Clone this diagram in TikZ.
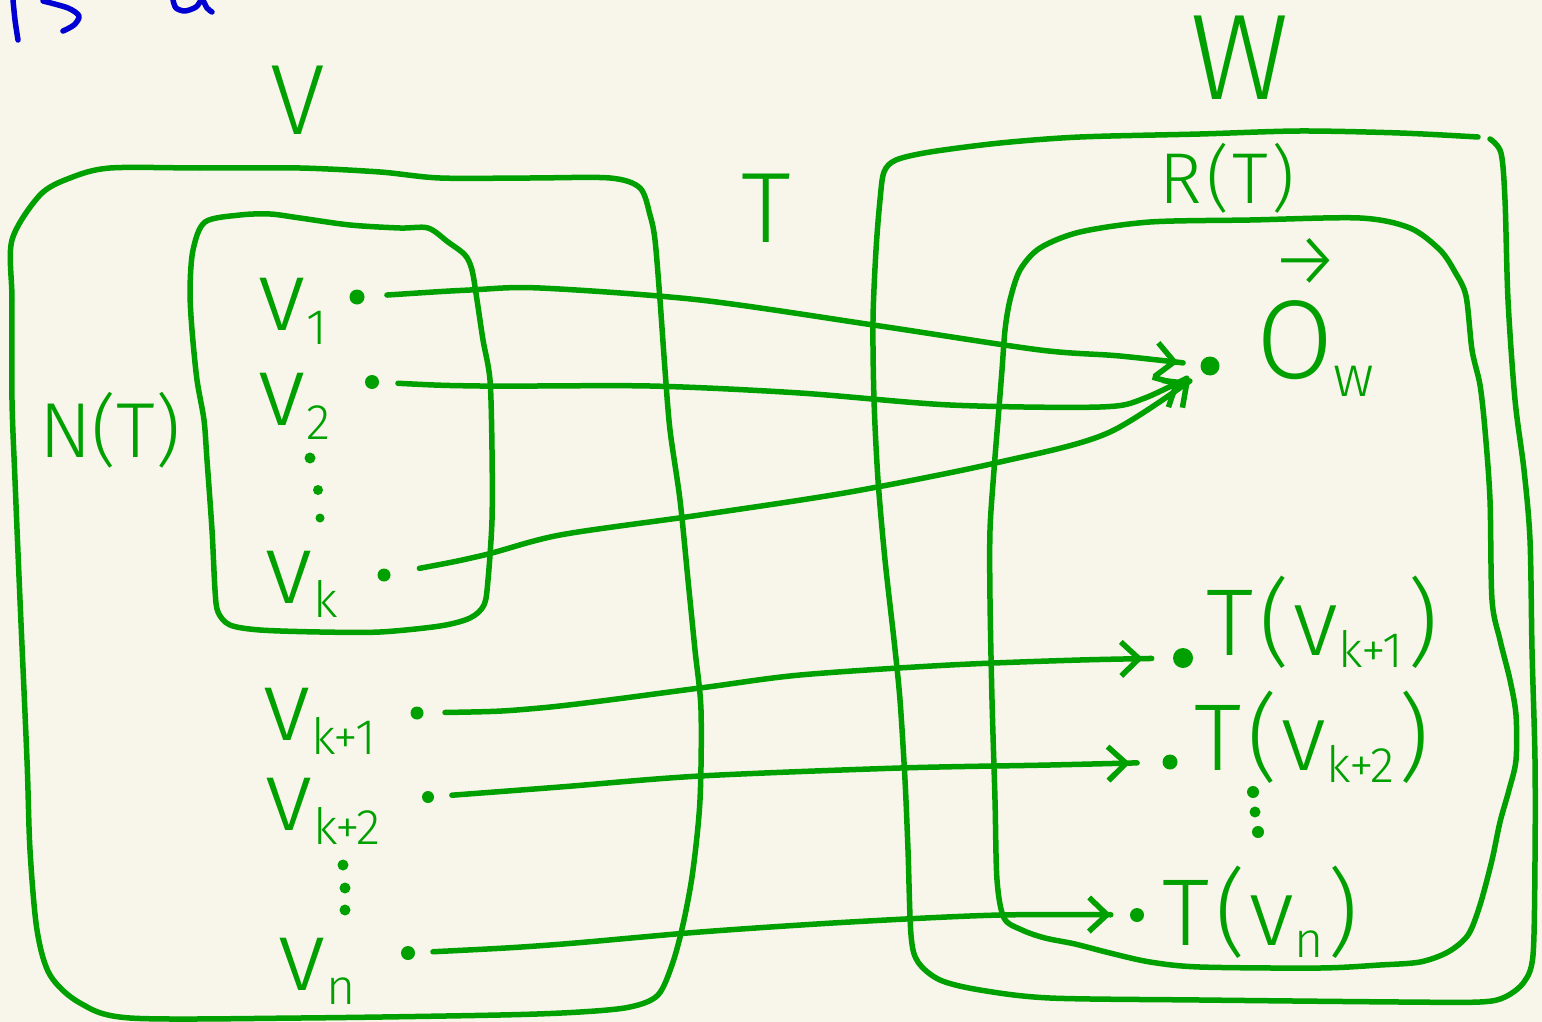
\documentclass[tikz,border=0pt]{standalone}
\usepackage{fontspec}
\setmainfont{Fira Sans Light}
\usetikzlibrary{arrows.meta}
\definecolor{paper}{RGB}{248,246,234}
\definecolor{ink}{RGB}{0,160,0}
\definecolor{blueink}{RGB}{0,0,210}
\newcommand{\fs}[1]{\fontsize{#1}{#1}\selectfont}
% vertex label: v with a lowered index
\newcommand{\vlab}[1]{{\fs{100}v}\kern1pt\raisebox{-14pt}{\fs{50}#1}}
% image label T(v_i)
\newcommand{\tlab}[1]{{\fs{95}T\kern6pt(\kern4pt v}\raisebox{-12pt}{\fs{50}#1}{\fs{95}\kern4pt)}}
\begin{document}
\begin{tikzpicture}[x=1pt,y=-1pt,
  pen/.style={draw=ink,line width=5.5pt,line cap=round,line join=round},
  bluepen/.style={draw=blueink,line width=5.5pt,line cap=round,line join=round},
  lab/.style={text=ink,inner sep=0pt},
  pt/.style={circle,fill=ink,inner sep=0pt,minimum size=#1},
  arr/.style={pen,-{Straight Barb[length=18pt,width=34pt]}}]
\fill[paper] (0,0) rectangle (1542,1022);
\useasboundingbox (0,0) rectangle (1542,1022);

% strokes cut off at the top edge
\draw[bluepen] plot[smooth] coordinates {(13,0) (15,20) (18,40)};
\draw[bluepen] plot[smooth] coordinates {(43,1) (68,8) (79,16) (74,25) (63,31)};
\draw[bluepen] plot[smooth] coordinates {(173,0) (176,8) (185,11) (196,7) (201,0)};
\draw[bluepen] plot[smooth] coordinates {(203,0) (207,8) (212,12)};

% set V
\draw[pen] plot[smooth cycle,tension=0.5] coordinates {
  (12,240) (40,195) (70,178) (110,168) (200,168) (300,168) (380,172) (440,178)
  (530,178) (610,178) (640,188) (650,215) (655,240) (660,300) (665,370) (670,430)
  (680,500) (688,580) (695,650) (701,710) (700,800) (693,870) (684,920) (673,962)
  (658,995) (630,1007) (580,1012) (500,1015) (300,1018) (130,1018) (80,1003)
  (50,975) (37,930) (30,850) (27,760) (20,600) (15,480) (12,400) (12,300)};
% subset N(T)
\draw[pen] plot[smooth cycle,tension=0.5] coordinates {
  (205,222) (240,215) (270,214) (300,218) (350,225) (400,228) (428,228)
  (448,242) (465,255) (472,270) (477,300) (483,340) (490,380) (492,450)
  (492,520) (488,580) (484,605) (470,618) (440,626) (380,632) (320,632)
  (260,630) (230,625) (218,612) (215,590) (212,530) (207,460) (204,420)
  (197,380) (192,330) (190,290) (193,250)};

% set W
\draw[pen] plot[smooth,tension=0.5] coordinates {
  (1490,139) (1501,153) (1505,200) (1508,300) (1515,400) (1524,470) (1530,540)
  (1532,650) (1535,760) (1535,860) (1533,955) (1524,982) (1505,997) (1480,1002)
  (1400,1002) (1200,1000) (1050,998) (980,990) (940,980) (918,962) (911,935)
  (908,850) (905,780) (900,700) (894,640) (885,560) (878,480) (874,400) (873,320)
  (876,250) (880,200) (884,172) (896,160) (930,152) (1000,143) (1080,137)
  (1200,134) (1300,131) (1400,133) (1478,137)};
% image R(T)
\draw[pen] plot[smooth cycle,tension=0.5] coordinates {
  (1010,300) (1020,270) (1040,248) (1080,232) (1150,222) (1250,220) (1360,218)
  (1410,228) (1440,250) (1455,272) (1466,296) (1472,350) (1480,385) (1485,430)
  (1490,500) (1492,600) (1500,640) (1510,680) (1516,715) (1516,760) (1509,790)
  (1500,822) (1492,860) (1480,905) (1468,935) (1448,952) (1420,962) (1380,965)
  (1320,968) (1200,967) (1150,962) (1110,953) (1075,944) (1045,938) (1022,930)
  (1004,918) (997,880) (995,800) (992,700) (990,600) (990,530) (994,470)
  (998,420) (1002,370) (1005,330)};

% set names
\node[lab] (nameV) at (298,100) {\fs{100}V};
\node[lab] (nameW) at (1240,58) {\fs{122}W};
\node[lab] (nameT) at (766,208) {\fs{100}T};
\node[lab] (nameR) at (1227,178) {\fs{72}R\kern4pt(\kern3pt T\kern3pt)};
\node[lab] (nameN) at (110,430) {\fs{78}N(T)};

% vertices of V
\node[lab,anchor=base west] (lv1) at (258,330) {\vlab{1}};
\node[lab,anchor=base west] (lv2) at (258,425) {\vlab{2}};
\node[lab,anchor=base west] (lvk) at (265,603) {\vlab{k}};
\node[lab,anchor=base west] (lvk1) at (263,740) {\vlab{k+1}};
\node[lab,anchor=base west] (lvk2) at (265,830) {\vlab{k+2}};
\node[lab,anchor=base west] (lvn) at (278,990) {\vlab{n}};
\node[pt=15pt] (p1) at (357,297) {};
\node[pt=14pt] (p2) at (372,382) {};
\node[pt=13pt] (pk) at (384,575) {};
\node[pt=13pt] (pk1) at (417,713) {};
\node[pt=12pt] (pk2) at (428,797) {};
\node[pt=14pt] (pn) at (408,953) {};
\node[pt=11pt] (d1) at (310,458) {};
\node[pt=10pt] (d2) at (318,490) {};
\node[pt=9pt] (d3) at (320,518) {};
\node[pt=11pt] (d4) at (343,865) {};
\node[pt=11pt] (d5) at (345,888) {};
\node[pt=11pt] (d6) at (345,910) {};

% points of W
\node[pt=19pt] (ow) at (1210,366) {};
\node[pt=20pt] (tk1) at (1183,658) {};
\node[pt=15pt] (tk2) at (1170,762) {};
\node[pt=14pt] (tn) at (1137,915) {};
\node[pt=12pt] (d7) at (1253,792) {};
\node[pt=11pt] (d8) at (1255,812) {};
\node[pt=12pt] (d9) at (1258,832) {};
\node[lab,anchor=base west] (lo) at (1256,378)
  {\rlap{\kern14pt\raisebox{92pt}{\fs{78}→}}{\fs{112}O}\raisebox{-18pt}{\fs{58}w}};
\node[lab,anchor=base west] (lt1) at (1206,655) {\tlab{k+1}};
\node[lab,anchor=base west] (lt2) at (1194,770) {\tlab{k+2}};
\node[lab,anchor=base west] (ltn) at (1162,945) {\tlab{n}};

% the map T
\draw[arr,shorten <=30pt,shorten >=32pt] plot[smooth] coordinates {
  (p1) (470,290) (540,288) (700,300) (880,326) (1040,350) (1120,356) (ow)};
\draw[arr,shorten <=26pt,shorten >=34pt] plot[smooth] coordinates {
  (p2) (480,386) (650,386) (800,393) (950,405) (1100,407) (1145,398) (ow)};
\draw[arr,shorten <=36pt,shorten >=25pt] plot[smooth] coordinates {
  (pk) (480,556) (560,535) (700,515) (850,492) (1000,462) (1110,432) (ow)};
\draw[arr,shorten <=28pt,shorten >=40pt] plot[smooth] coordinates {
  (pk1) (540,708) (700,688) (800,675) (950,665) (1080,660) (tk1)};
\draw[arr,shorten <=24pt,shorten >=40pt] plot[smooth] coordinates {
  (pk2) (560,787) (700,776) (900,768) (1050,765) (tk2)};
\draw[arr,shorten <=25pt,shorten >=26pt] plot[smooth] coordinates {
  (pn) (550,945) (700,932) (850,922) (1000,915) (tn)};
\end{tikzpicture}
\end{document}
